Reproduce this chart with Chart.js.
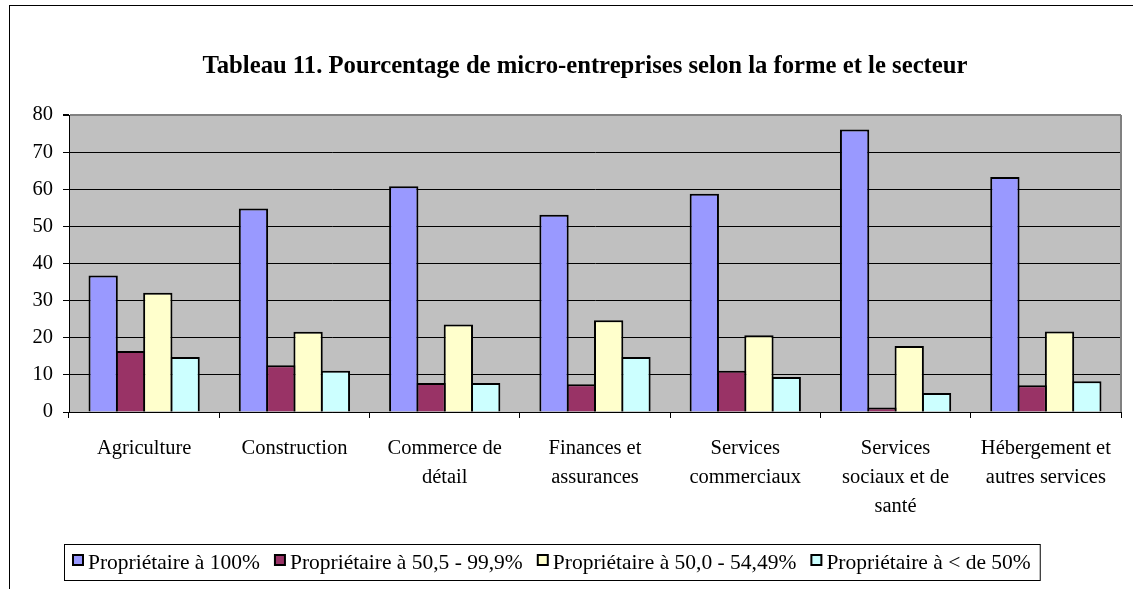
<!DOCTYPE html>
<html>
<head>
<meta charset="utf-8">
<script src="https://cdn.jsdelivr.net/npm/chart.js@4"></script>
<style>
  html, body { margin: 0; padding: 0; background: #fff; }
  #wrap { width: 1133px; height: 589px; }
</style>
</head>
<body>
<div id="wrap"><canvas id="chart"></canvas></div>
<script>
const title = "Tableau 11. Pourcentage de micro-entreprises selon la forme et le secteur";
const categories = [
  "Agriculture",
  "Construction",
  ["Commerce de", "détail"],
  ["Finances et", "assurances"],
  ["Services", "commerciaux"],
  ["Services", "sociaux et de", "santé"],
  ["Hébergement et", "autres services"]
];
const seriesNames = [
  "Propriétaire à 100%",
  "Propriétaire à 50,5 - 99,9%",
  "Propriétaire à 50,0 - 54,49%",
  "Propriétaire à < de 50%"
];
const owner100 = [36.8, 54.8, 60.8, 53.1, 58.8, 76.1, 63.3];
const owner505 = [16.4, 12.6, 7.8, 7.5, 11.1, 1.2, 7.2];
const owner500 = [32.1, 21.6, 23.6, 24.7, 20.7, 17.8, 21.7];
const ownerLess50 = [14.8, 11.1, 7.8, 14.8, 9.4, 5.1, 8.3];
const yTicks = [0, 10, 20, 30, 40, 50, 60, 70, 80];

const colors = ["#9999FF", "#993366", "#FFFFCC", "#CCFFFF"];
const serif = '"Liberation Serif", "Times New Roman", serif';

// gray plot area, gray right edge, outer frame and title of the chart
const frame = {
  id: "frame",
  beforeDraw(chart) {
    const { ctx, chartArea: a } = chart;
    ctx.save();
    ctx.fillStyle = "#fff";
    ctx.fillRect(0, 0, chart.width, chart.height);
    ctx.strokeStyle = "#000";
    ctx.lineWidth = 1;
    ctx.strokeRect(9.5, 5.5, chart.width + 20, chart.height + 20);
    ctx.fillStyle = "#C0C0C0";
    ctx.fillRect(a.left, a.top, a.right - a.left, a.bottom - a.top);
    ctx.fillStyle = "#000";
    ctx.font = "bold 24.7px " + serif;
    ctx.textAlign = "center";
    ctx.textBaseline = "middle";
    ctx.fillText(title, 585, 67);
    ctx.restore();
  },
  afterDraw(chart) {
    const { ctx, chartArea: a } = chart;
    ctx.save();
    ctx.strokeStyle = "#808080";
    ctx.lineWidth = 2;
    ctx.beginPath();
    ctx.moveTo(a.right, a.top);
    ctx.lineTo(a.right, a.bottom);
    ctx.stroke();
    ctx.restore();
  }
};

// legend box at the bottom, as in the original
const legendBox = {
  id: "legendBox",
  afterDraw(chart) {
    const ctx = chart.ctx;
    const y = chart.height - 26;
    ctx.save();
    ctx.font = "21.5px " + serif;
    ctx.textBaseline = "middle";
    let x = 73;
    const start = 64;
    chart.data.datasets.forEach((ds, i) => {
      ctx.fillStyle = ds.backgroundColor;
      ctx.fillRect(x, y - 8, 10, 10);
      ctx.strokeStyle = "#000";
      ctx.lineWidth = 2;
      ctx.strokeRect(x, y - 8, 10, 10);
      ctx.fillStyle = "#000";
      ctx.fillText(ds.label, x + 15, y);
      x += 15 + ctx.measureText(ds.label).width + 15;
    });
    ctx.strokeStyle = "#000";
    ctx.lineWidth = 1;
    ctx.strokeRect(start + 0.5, y - 18.5, x - start - 6, 36);
    ctx.restore();
  }
};

new Chart(document.getElementById("chart"), {
  type: "bar",
  data: {
    labels: categories,
    datasets: [owner100, owner505, owner500, ownerLess50].map((d, i) => ({
      label: seriesNames[i],
      data: d,
      backgroundColor: colors[i],
      borderColor: "#000",
      borderWidth: 2,
      categoryPercentage: 0.727,
      barPercentage: 1.073
    }))
  },
  options: {
    responsive: true,
    maintainAspectRatio: false,
    animation: false,
    layout: { padding: { left: 0, right: 12, top: 115, bottom: 0 } },
    plugins: {
      legend: { display: false },
      tooltip: { enabled: false },
      title: { display: false }
    },
    scales: {
      x: {
        grid: {
          display: true,
          offset: true,
          drawOnChartArea: false,
          drawTicks: true,
          tickLength: 6,
          color: "#000"
        },
        border: { color: "#000", width: 1 },
        ticks: {
          color: "#000",
          font: { family: serif, size: 20.5, lineHeight: 1.41 },
          padding: 16,
          maxRotation: 0,
          autoSkip: false
        },
        afterFit(scale) { scale.height = 177; }
      },
      y: {
        min: 0,
        max: 80,
        afterBuildTicks(scale) { scale.ticks = yTicks.map(v => ({ value: v })); },
        grid: {
          color: ctx => (ctx.tick && ctx.tick.value === 80 ? "#808080" : "#000"),
          lineWidth: ctx => (ctx.tick && ctx.tick.value === 80 ? 2 : 1),
          tickColor: "#000",
          tickLength: 6
        },
        border: { color: "#000", width: 1 },
        ticks: {
          color: "#000",
          font: { family: serif, size: 20.5 },
          padding: 10
        },
        afterFit(scale) { scale.width = 69; }
      }
    }
  },
  plugins: [frame, legendBox]
});
</script>
</body>
</html>
